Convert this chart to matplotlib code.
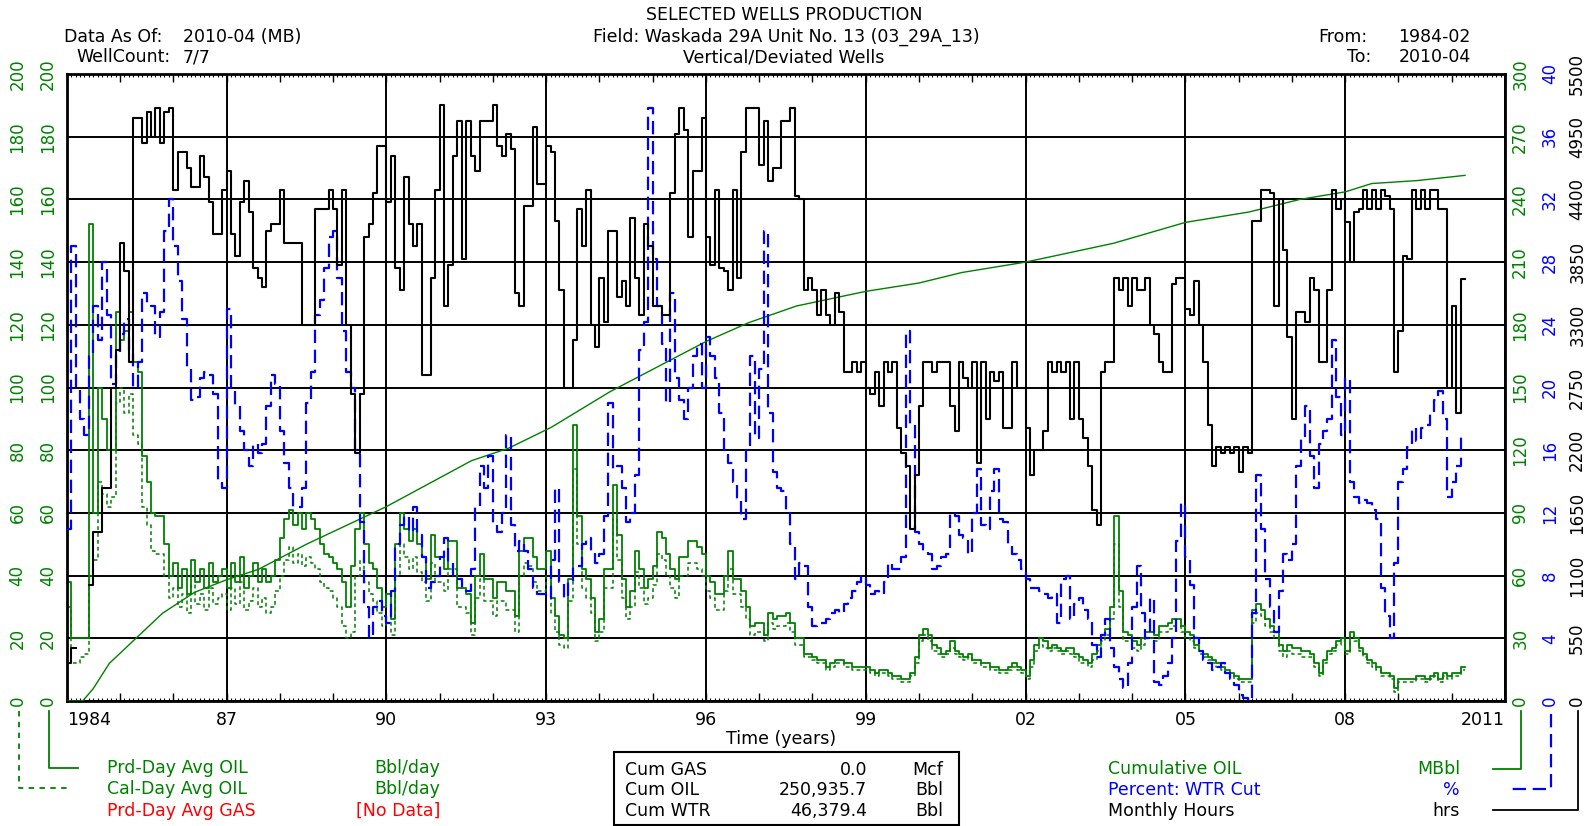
import numpy as np
import matplotlib
matplotlib.use("Agg")
import matplotlib.pyplot as plt
from matplotlib.lines import Line2D
from matplotlib.patches import Rectangle
from matplotlib.ticker import MultipleLocator, NullFormatter

nan = np.nan

# ---------------- data (monthly, 1984-02 .. 2010-04) ----------------
START_YEAR = 1984.0          # first month is drawn from the axis origin
MONTH = 1.0 / 12.0

# Prd-Day Avg OIL (Bbl/day)
prd_oil = [38,
    20, 20, 20, 20, 152, 60, 100, 90, 80, 80, 124,
    115, 118, 124, 108, 105, 78, 70, 60, 59, 59, 50, 40,
    44, 36, 42, 34, 45, 38, 42, 36, 44, 38, 40, 42,
    36, 44, 38, 46, 36, 40, 44, 38, 42, 38, 40, 45,
    52, 58, 61, 56, 60, 55, 60, 58, 55, 50, 47, 46,
    44, 42, 38, 30, 43, 55, 60, 50, 44, 42, 36, 30,
    34, 26, 50, 60, 55, 51, 55, 50, 46, 39, 53, 46,
    46, 42, 51, 51, 36, 36, 34, 25, 40, 47, 39, 39,
    33, 38, 38, 35, 35, 27, 48, 52, 52, 46, 42, 42,
    48, 33, 27, 21, 20, 39, 88, 59, 42, 39, 33, 22,
    26, 42, 42, 69, 53, 39, 30, 35, 48, 42, 36, 39,
    43, 54, 52, 47, 42, 39, 46, 46, 51, 51, 49, 47,
    40, 38, 34, 34, 40, 48, 39, 39, 35, 30, 24, 25,
    25, 21, 28, 26, 27, 27, 28, 25, 20, 20, 15, 15,
    14, 13, 13, 11, 12, 13, 13, 12, 12, 11, 11, 11,
    11, 10, 9, 10, 10, 9, 8, 8, 7, 7, 9, 14,
    21, 23, 21, 18, 17, 15, 16, 19, 16, 15, 14, 15,
    13, 13, 12, 12, 11, 11, 10, 10, 11, 12, 11, 10,
    8, 13, 18, 20, 19, 17, 18, 17, 16, 17, 17, 15,
    14, 13, 12, 15, 18, 21, 23, 30, 59, 35, 22, 21,
    19, 18, 20, 22, 22, 21, 24, 24, 25, 26, 26, 24,
    22, 21, 18, 16, 15, 14, 13, 12, 11, 10, 9, 8,
    7, 7, 7, 29, 31, 29, 26, 24, 22, 18, 16, 18,
    17, 17, 16, 16, 15, 12, 9, 13, 16, 17, 19, 20,
    16, 22, 20, 17, 15, 13, 12, 11, 9, 9, 8, 4,
    7, 7, 7, 7, 8, 8, 7, 8, 9, 7, 9, 8,
    9, 9, 11]

# Cal-Day Avg OIL (Bbl/day)
cal_oil = [30,
    12, 12, 14, 15, 40, 45, 70, 66, 62, 65, 95,
    100, 92, 98, 85, 82, 62, 56, 48, 47, 47, 40, 33,
    36, 30, 34, 28, 37, 31, 34, 29, 36, 31, 33, 34,
    29, 36, 31, 38, 29, 32, 36, 30, 33, 28, 30, 35,
    40, 45, 49, 44, 47, 43, 46, 44, 42, 38, 36, 35,
    33, 30, 24, 20, 22, 40, 45, 38, 34, 32, 28, 24,
    27, 21, 40, 50, 46, 42, 46, 41, 38, 32, 44, 38,
    38, 35, 42, 42, 30, 30, 28, 21, 33, 39, 32, 32,
    27, 32, 32, 29, 29, 22, 40, 44, 43, 38, 35, 35,
    40, 28, 22, 18, 17, 32, 74, 50, 36, 33, 28, 19,
    22, 36, 36, 58, 45, 33, 26, 30, 41, 36, 31, 33,
    37, 47, 45, 40, 36, 33, 40, 40, 44, 44, 42, 40,
    35, 33, 29, 29, 35, 42, 34, 34, 30, 26, 21, 22,
    22, 19, 25, 23, 24, 24, 25, 22, 18, 18, 14, 14,
    13, 12, 12, 10, 11, 12, 12, 11, 11, 10, 10, 10,
    10, 9, 8, 9, 9, 8, 7, 7, 6, 6, 8, 12,
    19, 21, 19, 16, 15, 14, 15, 17, 15, 14, 13, 14,
    12, 12, 11, 11, 10, 10, 9, 9, 10, 11, 10, 9,
    7, 11, 16, 18, 17, 16, 17, 16, 15, 16, 15, 14,
    12, 12, 11, 13, 16, 19, 21, 26, 50, 30, 19, 19,
    17, 16, 18, 20, 20, 19, 22, 22, 23, 24, 24, 22,
    20, 19, 17, 15, 14, 13, 12, 11, 10, 9, 8, 7,
    6, 6, 6, 25, 28, 27, 24, 22, 20, 16, 14, 16,
    15, 15, 14, 14, 14, 11, 8, 12, 15, 16, 18, 19,
    15, 21, 19, 16, 14, 12, 11, 10, 8, 8, 7, 3,
    6, 6, 6, 6, 7, 7, 6, 7, 8, 6, 8, 7,
    8, 8, 10]

# Percent: WTR Cut (%)
wtr_cut = [11.0,
    29.0, 20.0, 18.0, 17.0, 22.0, 25.2, 23.0, 28.0, 24.6, 20.2, 22.2,
    23.4, 24.4, 22.4, 20.0, 21.6, 26.0, 25.4, 25.2, 23.2, 24.8, 30.0, 32.0,
    29.0, 26.8, 24.4, 21.2, 19.2, 19.4, 20.6, 21.0, 20.8, 19.6, 14.0, 13.6,
    25.0, 20.0, 18.8, 17.2, 16.0, 15.0, 16.4, 15.8, 16.4, 18.8, 20.8, 20.2,
    17.2, 15.2, 13.6, 12.4, 12.4, 13.6, 19.0, 21.0, 24.6, 25.6, 27.6, 29.6,
    30.0, 27.0, 23.6, 21.0, 20.0, 16.0, 11.4, 6.0, 4.0, 6.0, 6.4, 5.4,
    5.0, 7.0, 10.0, 11.2, 11.8, 10.8, 12.4, 10.6, 9.2, 7.2, 7.6, 8.0,
    9.2, 10.4, 8.8, 8.0, 7.8, 7.2, 7.0, 8.4, 12.4, 15.0, 13.6, 15.6,
    11.2, 10.8, 12.0, 17.0, 11.2, 9.6, 10.2, 9.6, 8.4, 7.2, 6.8, 6.8,
    6.6, 9.0, 13.6, 7.6, 6.6, 7.6, 8.6, 8.6, 10.0, 10.4, 9.6, 8.8,
    9.4, 11.8, 19.0, 14.8, 15.0, 13.6, 11.4, 12.0, 14.4, 22.4, 24.2, 37.8,
    28.2, 25.2, 22.8, 19.0, 26.0, 20.6, 19.2, 18.0, 20.0, 22.0, 22.8, 20.0,
    23.2, 22.0, 20.6, 18.4, 16.0, 15.2, 14.0, 12.8, 11.6, 16.0, 22.0, 16.8,
    21.2, 30.0, 18.4, 14.6, 13.6, 13.4, 12.0, 10.0, 7.8, 8.8, 8.6, 6.0,
    4.8, 5.0, 5.0, 5.2, 5.6, 5.8, 5.6, 6.2, 6.6, 7.0, 7.6, 8.0,
    7.4, 6.8, 7.0, 6.8, 7.6, 8.8, 8.4, 8.4, 9.2, 23.6, 17.6, 10.8,
    10.0, 9.6, 9.4, 8.4, 8.6, 9.2, 9.4, 12.0, 11.8, 10.6, 10.4, 9.4,
    12.0, 14.8, 11.2, 11.0, 13.4, 14.8, 11.6, 11.4, 10.0, 9.4, 9.0, 8.4,
    7.8, 7.2, 7.2, 7.0, 6.8, 6.6, 6.8, 5.0, 7.8, 8.0, 5.2, 6.2,
    6.6, 5.8, 5.2, 3.6, 2.8, 4.2, 5.2, 3.4, 2.2, 1.4, 0.8, 2.4,
    6.0, 8.6, 5.6, 4.0, 6.6, 1.2, 1.0, 1.6, 2.4, 4.0, 10.2, 12.6,
    9.2, 7.4, 4.0, 3.2, 2.6, 2.4, 2.0, 2.2, 2.4, 1.8, 1.4, 1.0,
    0.4, 0.2, 0.0, 5.6, 14.4, 11.0, 7.8, 6.0, 4.4, 7.0, 9.4, 9.0,
    10.0, 15.0, 16.8, 18.8, 15.6, 13.6, 16.4, 17.2, 18.0, 23.0, 19.4, 17.0,
    20.6, 14.0, 13.0, 12.6, 12.8, 12.6, 12.2, 11.6, 7.2, 5.4, 4.0, 8.8,
    14.0, 14.8, 16.2, 17.4, 16.6, 17.4, 17.6, 18.4, 19.2, 19.8, 18.0, 13.0,
    14.0, 15.0, 17.0]

# Monthly Hours (hrs)
hours = [330,
    468, nan, nan, nan, 1018, 1485, 1485, 1870, 1870, 2750, 3080,
    4015, 3768, 2970, 5115, 5115, 4895, 5170, 4950, 5198, 4895, 5170, 5198,
    4483, 4813, 4813, 4675, 4510, 4510, 4785, 4593, 4373, 4098, 4098, 4483,
    4648, 4098, 3905, 4373, 4565, 4290, 3795, 3713, 3630, 4125, 4180, 4180,
    4483, 4015, 4015, 4015, 4015, 3300, 3300, 3300, 4318, 4318, 4318, 4483,
    4318, 3823, 4483, 3300, 2695, 2173, 2695, 4070, 4180, 4455, 4868, 4868,
    4373, 4785, 3795, 3603, 4593, 4180, 3988, 4180, 2860, 2860, 3713, 4483,
    5225, 3465, 3823, 4785, 5088, 3878, 5088, 4785, 4648, 5088, 5088, 5088,
    5225, 4868, 4785, 4978, 4840, 3575, 3465, 4345, 4345, 5033, 4538, 4538,
    4868, 4813, 4208, 3603, 2750, 2750, 3163, 4318, 3988, 4483, 3300, 3108,
    3713, 3328, 4125, 4125, 3548, 3685, 3465, 4235, 3713, 3383, 4180, 3988,
    3465, 3465, 3383, 3383, 4455, 4978, 5198, 5005, 4070, 4648, 4648, 5115,
    4070, 3823, 4483, 3795, 3768, 3603, 4483, 3713, 4813, 5198, 5198, 5198,
    4703, 5088, 4565, 4675, 4675, 5088, 5088, 5198, 4428, 4400, 3603, 3713,
    3603, 3383, 3603, 3383, 3300, 3575, 3410, 2888, 2888, 2970, 2888, 2970,
    2750, 2695, 2888, 2585, 2970, 2888, 2970, 2393, 2173, 2063, 1513, 1980,
    2585, 2970, 2970, 2888, 2970, 2970, 2970, 2585, 2365, 2970, 2833, 2750,
    2970, 2090, 2970, 2475, 2888, 2805, 2888, 2393, 2393, 2970, 2750, 2750,
    2393, 1980, 2200, 2200, 2365, 2970, 2888, 2970, 2888, 2970, 2475, 2970,
    2475, 2310, 2063, 1678, 1540, 2888, 2970, 2970, 3713, 3603, 3713, 3465,
    3713, 3603, 3603, 3713, 3300, 3218, 2970, 2888, 2888, 3658, 3713, 3713,
    3438, 3383, 3685, 3300, 2970, 2420, 2063, 2228, 2173, 2228, 2173, 2228,
    2008, 2228, 2173, 4208, 4208, 4483, 4483, 4455, 3465, 4400, 3960, 3190,
    2475, 3410, 3410, 3328, 3713, 3603, 2970, 2970, 3603, 4483, 4318, 4400,
    4200, 3850, 4290, 4318, 4483, 4318, 4483, 4318, 4483, 4428, 4318, 2888,
    3245, 3905, 3878, 4483, 4318, 4483, 4318, 4483, 4483, 4318, 4318, 2750,
    3465, 2530, 3700]

# Cumulative OIL (MBbl)
cum_years = [1984.0, 1984.3, 1984.5, 1984.8, 1985.3, 1985.8, 1986.4, 1987.0,
             1987.6, 1988.5, 1990.0, 1991.6, 1992.3, 1993.1, 1994.2, 1996.0,
             1996.8, 1997.7, 1999.0, 2000.0, 2000.8, 2002.0, 2003.65, 2005.0,
             2006.2, 2007.15, 2008.0, 2008.5, 2009.35, 2010.25]
cum_mbbl = [0, 0, 6, 18, 30, 42, 52, 58, 63, 75, 93, 115, 121, 131, 148, 172,
            181, 189, 196, 200, 205, 210, 219, 229, 234, 240, 243.6, 247.6,
            249, 251.5]

# axis ticks
year_ticks = [1984, 1987, 1990, 1993, 1996, 1999, 2002, 2005, 2008, 2011]
year_labels = ["1984", "87", "90", "93", "96", "99", "02", "05", "08", "2011"]
oil_ticks = list(range(0, 201, 20))
cum_ticks = list(range(0, 301, 30))
wtr_ticks = list(range(0, 41, 4))
hrs_ticks = list(range(0, 5501, 550))

# ---------------- figure ----------------
W_PX, H_PX = 1596, 826
GREEN = "#008000"
BLUE = "#0000FF"
RED = "#FF0000"
FS = 12.5
plt.rcParams["font.family"] = ["DejaVu Sans"]

fig = plt.figure(figsize=(W_PX / 100, H_PX / 100), dpi=100)
fig.patch.set_facecolor("white")


def fx(x):
    return x / W_PX


def fy(y):
    return 1 - y / H_PX


ax = fig.add_axes([fx(66.7), fy(701), fx(1505) - fx(66.7), fy(74) - fy(701)])
ax.set_xlim(1984, 2011)
ax.set_ylim(0, 200)
ax.set_xticks(year_ticks)
ax.set_xticklabels(year_labels, fontsize=FS)
ax.xaxis.set_minor_locator(MultipleLocator(MONTH))
ax.tick_params(axis="x", which="major", length=0, pad=7)
ax.tick_params(axis="x", which="minor", direction="in", length=2.5, width=0.8,
               top=True, bottom=True)
labs = ax.get_xticklabels()
labs[0].set_ha("left")
labs[-1].set_ha("right")
ax.set_yticks(oil_ticks)
ax.tick_params(axis="y", length=0, labelcolor=GREEN, labelsize=FS - 0.5,
               labelrotation=90, pad=7)
for lab in ax.get_yticklabels():
    lab.set_va("center")
ax.grid(True, which="major", color="black", lw=1.4)
for s in ax.spines.values():
    s.set_linewidth(2)

# yearly ticks top and bottom
for loc in ("bottom", "top"):
    sx = ax.secondary_xaxis(loc)
    sx.set_xticks(list(range(1984, 2012)))
    sx.xaxis.set_major_formatter(NullFormatter())
    sx.tick_params(direction="in", length=6, width=1)
    sx.spines[loc].set_visible(False)

# second (cal-day) left scale
sy = ax.secondary_yaxis("left")
sy.set_yticks(oil_ticks)
sy.tick_params(length=0, labelcolor=GREEN, labelsize=FS - 0.5, labelrotation=90, pad=29)
sy.spines["left"].set_visible(False)
for lab in sy.get_yticklabels():
    lab.set_va("center")


def right_axis(lim, ticks, color, pad):
    a = ax.twinx()
    a.set_ylim(*lim)
    a.set_yticks(ticks)
    a.tick_params(axis="y", length=0, labelcolor=color, labelsize=FS - 0.5,
                  labelrotation=90, pad=pad)
    for lab in a.get_yticklabels():
        lab.set_va("center")
    for s in a.spines.values():
        s.set_visible(False)
    return a


ax_cum = right_axis((0, 300), cum_ticks, GREEN, 4.5)
ax_wtr = right_axis((0, 40), wtr_ticks, BLUE, 26)
ax_hrs = right_axis((0, 5500), hrs_ticks, "black", 45.5)


def steps(a, values, **kw):
    v = np.asarray(values, dtype=float)
    t = START_YEAR + np.arange(len(v) + 1) * MONTH
    a.plot(t, np.append(v, v[-1]), drawstyle="steps-post", **kw)


steps(ax, cal_oil, color=GREEN, lw=1.1, ls=(0, (2.5, 2)))
steps(ax, prd_oil, color=GREEN, lw=1.3)
ax_cum.plot(cum_years, cum_mbbl, color=GREEN, lw=1.0)
steps(ax_wtr, wtr_cut, color=BLUE, lw=1.6, ls=(0, (6, 3)))
steps(ax_hrs, hours, color="black", lw=1.5)

# ---------------- header text ----------------
fig.text(fx(784), fy(15), "SELECTED WELLS PRODUCTION", ha="center", va="center", fontsize=FS)
fig.text(fx(786), fy(37), "Field: Waskada 29A Unit No. 13 (03_29A_13)", ha="center", va="center", fontsize=FS)
fig.text(fx(784), fy(57), "Vertical/Deviated Wells", ha="center", va="center", fontsize=FS)
fig.text(fx(64), fy(37), "Data As Of:", ha="left", va="center", fontsize=FS)
fig.text(fx(183), fy(37), "2010-04 (MB)", ha="left", va="center", fontsize=FS)
fig.text(fx(76), fy(57), "WellCount:", ha="left", va="center", fontsize=FS)
fig.text(fx(183), fy(57), "7/7", ha="left", va="center", fontsize=FS)
fig.text(fx(1318), fy(37), "From:", ha="left", va="center", fontsize=FS)
fig.text(fx(1471), fy(37), "1984-02", ha="right", va="center", fontsize=FS)
fig.text(fx(1347), fy(57), "To:", ha="left", va="center", fontsize=FS)
fig.text(fx(1471), fy(57), "2010-04", ha="right", va="center", fontsize=FS)
fig.text(fx(781), fy(739), "Time (years)", ha="center", va="center", fontsize=FS)

# ---------------- left legend ----------------
fig.add_artist(Line2D([fx(49), fx(49), fx(78)], [fy(711), fy(768), fy(768)],
                      color=GREEN, lw=1.3))
fig.add_artist(Line2D([fx(19), fx(19), fx(71)], [fy(711), fy(788), fy(788)],
                      color=GREEN, lw=1.3, ls=(0, (3, 3))))
for y, name, unit, col, ux in [(768, "Prd-Day Avg OIL", "Bbl/day", GREEN, 374),
                               (789, "Cal-Day Avg OIL", "Bbl/day", GREEN, 374),
                               (811, "Prd-Day Avg GAS", "[No Data]", RED, 356)]:
    fig.text(fx(107), fy(y), name, color=col, ha="left", va="center", fontsize=FS)
    fig.text(fx(ux), fy(y), unit, color=col, ha="left", va="center", fontsize=FS)

# ---------------- totals box ----------------
fig.add_artist(Rectangle((fx(614), fy(825)), fx(959) - fx(614), fy(752) - fy(825),
                         transform=fig.transFigure, fill=False, ec="black", lw=1.5))
for y, name, val, unit in [(770, "Cum GAS", "0.0", "Mcf"),
                           (790, "Cum OIL", "250,935.7", "Bbl"),
                           (811, "Cum WTR", "46,379.4", "Bbl")]:
    fig.text(fx(625), fy(y), name, ha="left", va="center", fontsize=FS)
    fig.text(fx(867), fy(y), val, ha="right", va="center", fontsize=FS)
    fig.text(fx(943), fy(y), unit, ha="right", va="center", fontsize=FS)

# ---------------- right legend ----------------
fig.add_artist(Line2D([fx(1521), fx(1521), fx(1493)], [fy(711), fy(769), fy(769)],
                      color=GREEN, lw=1.3))
fig.add_artist(Line2D([fx(1551), fx(1551), fx(1508)], [fy(714), fy(789), fy(789)],
                      color=BLUE, lw=1.6, ls=(0, (6, 3))))
fig.add_artist(Line2D([fx(1578), fx(1578), fx(1493)], [fy(711), fy(810), fy(810)],
                      color="black", lw=1.3))
for y, name, unit, col in [(769, "Cumulative OIL", "MBbl", GREEN),
                           (790, "Percent: WTR Cut", "%", BLUE),
                           (811, "Monthly Hours", "hrs", "black")]:
    fig.text(fx(1108), fy(y), name, color=col, ha="left", va="center", fontsize=FS)
    fig.text(fx(1460), fy(y), unit, color=col, ha="right", va="center", fontsize=FS)

fig.savefig("out.png", dpi=100, facecolor="white")
